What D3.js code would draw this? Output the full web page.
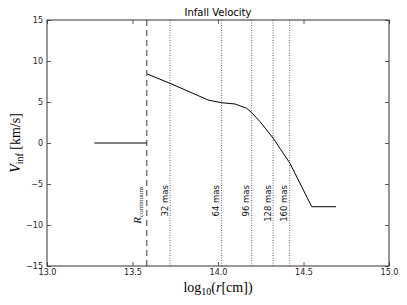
<!DOCTYPE html>
<html><head><meta charset="utf-8">
<script src="https://cdn.jsdelivr.net/npm/d3@7"></script>
<style>body{margin:0;background:#fff}svg{display:block}</style>
</head><body>
<script>
// ---- data ----
const innerLogR = [13.277, 13.583];
const innerV = [0, 0];
const outerLogR = [13.586, 13.719, 13.943, 14.022, 14.099, 14.168, 14.197, 14.246, 14.323, 14.421, 14.548, 14.690];
const outerV    = [8.41, 7.28, 5.24, 4.91, 4.76, 4.23, 3.70, 2.60, 0.57, -2.48, -7.77, -7.77];
const rContinuum = 13.583;
const masLabels = ["32 mas", "64 mas", "96 mas", "128 mas", "160 mas"];
const masLogR = [13.720, 14.021, 14.197, 14.322, 14.419];
const xTicks = [13.0, 13.5, 14.0, 14.5, 15.0];
const xTickLabels = ["13.0", "13.5", "14.0", "14.5", "15.0"];
const yTicks = [-15, -10, -5, 0, 5, 10, 15];
const yTickLabels = ["\u221215", "\u221210", "\u22125", "0", "5", "10", "15"];
const title = "Infall Velocity";

// ---- layout ----
const W = 407, H = 305;
const L = 47, R = 389, T = 20, B = 266;
const svg = d3.select("body").append("svg").attr("width", W).attr("height", H);
const x = d3.scaleLinear().domain([13, 15]).range([L, R]);
const y = d3.scaleLinear().domain([-15, 15]).range([B, T]);

const tickFont = "DejaVu Sans";
const tl = 4;
const axB = svg.append("g").attr("transform", `translate(0,${B})`)
  .call(d3.axisBottom(x).tickValues(xTicks).tickFormat((d, i) => xTickLabels[i]).tickSizeInner(-tl).tickSizeOuter(0).tickPadding(3));
const axT = svg.append("g").attr("transform", `translate(0,${T})`)
  .call(d3.axisTop(x).tickValues(xTicks).tickFormat("").tickSizeInner(-tl).tickSizeOuter(0));
const axL = svg.append("g").attr("transform", `translate(${L},0)`)
  .call(d3.axisLeft(y).tickValues(yTicks).tickFormat((d, i) => yTickLabels[i]).tickSizeInner(-tl).tickSizeOuter(0).tickPadding(4));
const axR = svg.append("g").attr("transform", `translate(${R},0)`)
  .call(d3.axisRight(y).tickValues(yTicks).tickFormat("").tickSizeInner(-tl).tickSizeOuter(0));
[axB, axT, axL, axR].forEach(a => {
  a.select(".domain").remove();
  a.selectAll(".tick line").attr("stroke", "#333").attr("stroke-width", 0.8);
  a.selectAll("text").attr("font-family", tickFont).attr("font-size", 8).attr("fill", "#222");
});
axB.selectAll("text").attr("dy", "0.8em");

// vertical reference lines
svg.append("line").attr("x1", x(rContinuum)).attr("x2", x(rContinuum)).attr("y1", T).attr("y2", B)
  .attr("stroke", "#777").attr("stroke-width", 1.5).attr("stroke-dasharray", "6,4");
svg.selectAll("line.mas").data(masLogR).join("line").attr("class", "mas")
  .attr("x1", d => x(d)).attr("x2", d => x(d)).attr("y1", T).attr("y2", B)
  .attr("stroke", "#666").attr("stroke-width", 1).attr("stroke-dasharray", "1,1.5");

// labels on the lines
svg.selectAll("text.mas").data(masLogR).join("text").attr("class", "mas")
  .attr("transform", d => `translate(${x(d) - 2.5},185) rotate(-90)`)
  .attr("text-anchor", "end").attr("font-family", tickFont).attr("font-size", 8.5).attr("fill", "#111")
  .text((d, i) => masLabels[i]);
const rc = svg.append("text")
  .attr("transform", `translate(${x(rContinuum) - 6},187) rotate(-90)`)
  .attr("text-anchor", "end").attr("font-family", "Liberation Serif").attr("font-size", 11).attr("fill", "#111");
rc.append("tspan").attr("font-style", "italic").text("R");
rc.append("tspan").attr("font-size", 7).attr("dy", 2).text("continuum");

// data lines
const line = d3.line().x(d => x(d[0])).y(d => y(d[1]));
svg.append("path").datum(d3.zip(innerLogR, innerV)).attr("d", line)
  .attr("fill", "none").attr("stroke", "#000").attr("stroke-width", 1);
svg.append("path").datum(d3.zip(outerLogR, outerV)).attr("d", line)
  .attr("fill", "none").attr("stroke", "#000").attr("stroke-width", 1);

// frame
svg.append("rect").attr("x", L).attr("y", T).attr("width", R - L).attr("height", B - T)
  .attr("fill", "none").attr("stroke", "#333").attr("stroke-width", 1);

// title
svg.append("text").attr("x", (L + R) / 2).attr("y", 16).attr("text-anchor", "middle")
  .attr("font-family", tickFont).attr("font-size", 10).attr("fill", "#000").text(title);

// x label
const xl = svg.append("text").attr("x", (L + R) / 2).attr("y", 292).attr("text-anchor", "middle")
  .attr("font-family", "Liberation Serif").attr("font-size", 14).attr("fill", "#000");
xl.append("tspan").text("log");
xl.append("tspan").attr("font-size", 10).attr("dy", 3).text("10");
xl.append("tspan").attr("dy", -3).text("(");
xl.append("tspan").attr("font-style", "italic").text("r");
xl.append("tspan").text("[cm])");

// y label
const yl = svg.append("text").attr("transform", `translate(20,${(T + B) / 2}) rotate(-90)`).attr("text-anchor", "middle")
  .attr("font-family", "Liberation Serif").attr("font-size", 14).attr("fill", "#000");
yl.append("tspan").attr("font-style", "italic").text("V");
yl.append("tspan").attr("font-size", 10).attr("dy", 3).text("inf");
yl.append("tspan").attr("dy", -3).text(" [km/s]");
</script>
</body></html>
